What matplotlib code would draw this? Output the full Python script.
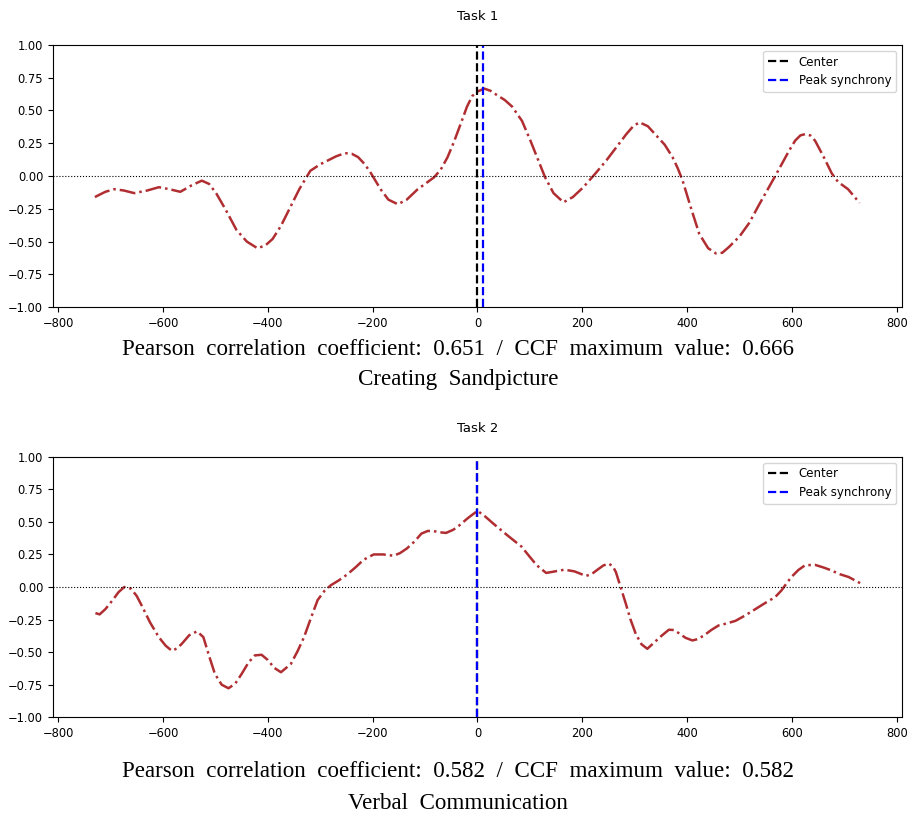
import matplotlib
matplotlib.use('Agg')
import matplotlib.pyplot as plt
import numpy as np

# task 1 - creating sandpicture
lag_1 = [-730, -710, -693, -675, -655, -630, -608, -588, -567, -545, -526, -512, -498, -480,
         -460, -440, -420, -405, -391, -375, -360, -340, -319, -300, -285, -270, -253, -240,
         -228, -215, -203, -185, -170, -152, -135, -114, -100, -83, -70, -57, -45, -31, -20,
         -10, 0, 13, 25, 38, 52, 66, 85, 101, 115, 129, 145, 164, 182, 202, 225, 246, 265, 284,
         297, 309, 325, 341, 357, 372, 382, 391, 407, 423, 440, 455, 467, 480, 500, 518, 537,
         556, 568, 581, 594, 606, 616, 625, 635, 644, 660, 676, 688, 707, 729]
ccf_1 = [-0.16, -0.12, -0.10, -0.11, -0.13, -0.11, -0.085, -0.10, -0.12, -0.07, -0.035, -0.06,
         -0.135, -0.26, -0.41, -0.50, -0.55, -0.53, -0.48, -0.38, -0.26, -0.10, 0.04, 0.09,
         0.12, 0.15, 0.175, 0.17, 0.145, 0.09, 0.02, -0.10, -0.18, -0.215, -0.18, -0.10, -0.06,
         -0.01, 0.05, 0.145, 0.26, 0.41, 0.53, 0.61, 0.645, 0.667, 0.65, 0.615, 0.58, 0.53,
         0.42, 0.27, 0.13, -0.01, -0.13, -0.20, -0.16, -0.085, 0.02, 0.12, 0.22, 0.32, 0.38,
         0.41, 0.38, 0.31, 0.24, 0.145, 0.06, -0.03, -0.24, -0.44, -0.55, -0.59, -0.585, -0.54,
         -0.46, -0.36, -0.22, -0.085, 0.0, 0.095, 0.19, 0.27, 0.31, 0.32, 0.31, 0.27, 0.15,
         0.02, -0.045, -0.10, -0.205]
peak_1 = 10

# task 2 - verbal communication
lag_2 = [-729, -721, -710, -696, -685, -674, -661, -650, -639, -625, -608, -595, -583, -573,
         -564, -550, -535, -523, -512, -501, -488, -475, -462, -450, -437, -425, -412, -400,
         -388, -375, -356, -343, -331, -318, -305, -292, -280, -265, -249, -233, -217, -198,
         -180, -160, -148, -135, -120, -107, -95, -85, -72, -60, -46, -34, -18, 0, 15, 30, 56,
         84, 98, 113, 131, 148, 166, 185, 207, 218, 229, 240, 250, 258, 264, 273, 283, 292, 302,
         313, 324, 336, 348, 365, 375, 384, 397, 410, 420, 432, 446, 460, 475, 492, 510, 530,
         550, 568, 580, 590, 599, 612, 625, 644, 660, 675, 690, 708, 730]
ccf_2 = [-0.20, -0.21, -0.17, -0.10, -0.04, 0.0, -0.013, -0.07, -0.155, -0.27, -0.385, -0.45,
         -0.49, -0.47, -0.435, -0.37, -0.34, -0.385, -0.53, -0.667, -0.75, -0.777, -0.74,
         -0.667, -0.58, -0.525, -0.52, -0.56, -0.62, -0.654, -0.59, -0.49, -0.385, -0.24, -0.10,
         -0.03, 0.013, 0.05, 0.095, 0.15, 0.21, 0.25, 0.25, 0.24, 0.26, 0.295, 0.35, 0.41, 0.43,
         0.43, 0.42, 0.415, 0.44, 0.475, 0.53, 0.585, 0.54, 0.487, 0.40, 0.31, 0.24, 0.167, 0.108,
         0.12, 0.133, 0.12, 0.085, 0.10, 0.133, 0.165, 0.18, 0.16, 0.115, 0.0, -0.128, -0.25,
         -0.36, -0.44, -0.474, -0.43, -0.385, -0.328, -0.33, -0.354, -0.39, -0.41, -0.40, -0.372,
         -0.33, -0.295, -0.28, -0.26, -0.22, -0.17, -0.12, -0.077, -0.026, 0.03, 0.077, 0.13,
         0.167, 0.17, 0.15, 0.128, 0.10, 0.077, 0.03]
peak_2 = 0

titles = ['Task 1', 'Task 2']
captions = [['Pearson  correlation  coefficient:  0.651  /  CCF  maximum  value:  0.666',
             'Creating  Sandpicture'],
            ['Pearson  correlation  coefficient:  0.582  /  CCF  maximum  value:  0.582',
             'Verbal  Communication']]

fig = plt.figure(figsize=(9.13, 8.17), dpi=100)
ax1 = fig.add_axes([0.058, 0.624, 0.930, 0.321])
ax2 = fig.add_axes([0.058, 0.122, 0.930, 0.319])

for ax, lag, ccf, peak, ttl in [(ax1, lag_1, ccf_1, peak_1, titles[0]),
                                 (ax2, lag_2, ccf_2, peak_2, titles[1])]:
    ax.plot(lag, ccf, '-.', color='#b02e32', lw=1.8)
    ax.axhline(0, color='k', ls=':', lw=0.8)
    ax.axvline(0, color='k', ls='--', lw=1.6, label='Center')
    ax.axvline(peak, color='b', ls='--', lw=1.6, label='Peak synchrony')
    ax.set_xlim(-810, 810)
    ax.set_ylim(-1, 1)
    ax.set_xticks(np.arange(-800, 801, 200))
    ax.set_yticks(np.arange(-1, 1.01, 0.25))
    ax.tick_params(labelsize=8.3)
    ax.set_title(ttl, fontsize=9.5, pad=18)
    ax.legend(loc='upper right', fontsize=8.5, handlelength=1.8)

# captions under each plot
serif = ['Liberation Serif', 'DejaVu Serif']
cy = [355, 385, 777, 809]
for txt, y in zip(captions[0] + captions[1], cy):
    fig.text(0.502, 1 - y / 817, txt, ha='center', va='baseline', fontsize=16.6, family=serif)

fig.savefig('out.png', dpi=100)
